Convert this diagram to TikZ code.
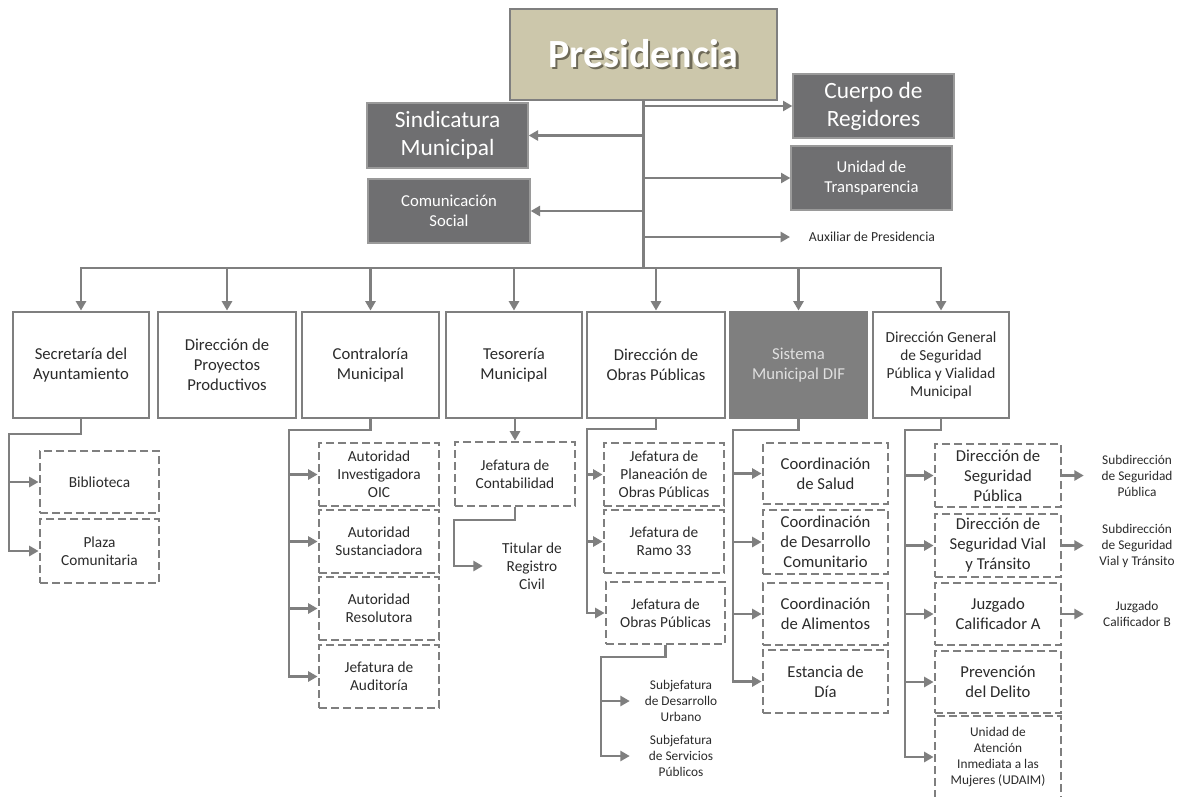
\documentclass[tikz,border=0pt]{standalone}
\usepackage{fontspec}
\setmainfont{Carlito}
\usetikzlibrary{arrows.meta}
\definecolor{ln}{HTML}{7F7F7F}
\definecolor{dk}{HTML}{6F6F71}
\definecolor{dkb}{HTML}{9A9A9A}
\definecolor{tanfill}{HTML}{CCC7AB}
\definecolor{diffill}{HTML}{7F7F7F}
\definecolor{txt}{HTML}{2B2B2B}
\definecolor{shd}{HTML}{6E6A58}
\newcommand\fs[2]{\fontsize{#1}{#2}\selectfont}
\tikzset{
 conn/.style={draw=ln, line width=2.2pt},
 arr/.style={conn, -{Triangle[length=7pt,width=7.5pt]}},
 solidbox/.style={draw=ln, line width=2.2pt, fill=white, align=center, text=txt, inner sep=1pt},
 dbox/.style={draw=ln, line width=2.2pt, dash pattern=on 6pt off 3pt, fill=white, align=center, text=txt, inner sep=1pt},
 darkbox/.style={draw=dkb, line width=1pt, fill=dk, text=white, align=center, inner sep=1pt},
 lbl/.style={align=center, text=txt, inner sep=0pt},
 fA/.style={font=\fs{12.5}{15}},
 fB/.style={font=\fs{11.5}{13.5}},
 fC/.style={font=\fs{12.5}{15}},
 fD/.style={font=\fs{10}{12}},
 fE/.style={font=\fs{17.5}{21}},
 fF/.style={font=\fs{12.5}{15}},
}
\newcommand\bx[7]{\node[#2, minimum width={(#5-#3)*0.75pt}, minimum height={(#6-#4)*0.75pt}] (#1) at ({(#3+#5)/2},{(#4+#6)/2}) {#7};}
\begin{document}
\begin{tikzpicture}[x=0.75pt,y=-0.75pt]
\useasboundingbox (0,0) rectangle (1180,796);
\clip (0,0) rectangle (1180,796);
\fill[white] (0,0) rectangle (1180,796);

% top
\bx{pres}{solidbox, fill=tanfill, text=white, font=\fs{30}{36}\bfseries}{510}{9}{777}{100}{\makebox[0pt][l]{\hspace{1.6pt}\raisebox{-1.6pt}{\color{shd}Presidencia}}Presidencia}
\bx{cuerpo}{darkbox, fE}{793}{74}{954}{138}{Cuerpo de\\Regidores}
\bx{sind}{darkbox, fE}{367}{103}{528}{168}{Sindicatura\\Municipal}
\bx{unidad}{darkbox, fF}{791}{146}{952}{210}{Unidad de\\Transparencia}
\bx{comun}{darkbox, fF}{368}{179}{530}{243}{Comunicación\\Social}
\node[lbl, font=\fs{10.3}{12}, anchor=west, inner xsep=14pt] (aux) at (790,237) {Auxiliar de Presidencia};

\coordinate (bus) at (644,268);
\draw[conn] (pres.south) -- (pres.south |- bus);
\draw[arr] (pres.south |- cuerpo.west) -- (cuerpo.west);
\draw[arr] (pres.south |- sind.east) -- (sind.east);
\draw[arr] (pres.south |- unidad.west) -- (unidad.west);
\draw[arr] (pres.south |- comun.east) -- (comun.east);
\draw[arr] (pres.south |- aux.west) -- (aux.west);

% level 2
\bx{sec}{solidbox, fA}{13}{312}{149}{418}{Secretaría del\\Ayuntamiento}
\bx{proj}{solidbox, fA}{158}{312}{296}{418}{Dirección de\\Proyectos\\Productivos}
\bx{contr}{solidbox, fA}{302}{312}{439}{418}{Contraloría\\Municipal}
\bx{tes}{solidbox, fA}{446}{312}{582}{418}{Tesorería\\Municipal}
\bx{obras}{solidbox, fA}{587}{312}{725}{418}{Dirección de\\Obras Públicas}
\bx{dif}{solidbox, fA, fill=diffill, text=black!12}{730}{312}{867}{418}{Sistema\\Municipal DIF}
\bx{dgsp}{solidbox, fB}{873}{312}{1009}{418}{Dirección General\\de Seguridad\\Pública y Vialidad\\Municipal}

\draw[conn, line cap=rect] (sec.north |- bus) -- (dgsp.north |- bus);
\foreach \n in {sec,proj,contr,tes,obras,dif,dgsp}{
  \draw[arr] (\n.north |- bus) -- (\n.north);
}

% Secretaria children
\bx{bib}{dbox, fB}{40}{451}{159}{513}{Biblioteca}
\bx{plaza}{dbox, fB}{40}{519}{159}{583}{Plaza\\Comunitaria}
\coordinate (secJ) at (9,434);
\draw[arr] (sec.south) |- (secJ) |- (plaza.west);
\draw[arr] (secJ |- bib.west) -- (bib.west);

% Contraloria children
\bx{oic}{dbox, fB}{319}{443}{439}{506}{Autoridad\\Investigadora\\OIC}
\bx{sust}{dbox, fB}{319}{510}{439}{573}{Autoridad\\Sustanciadora}
\bx{reso}{dbox, fB}{319}{577}{439}{640}{Autoridad\\Resolutora}
\bx{audi}{dbox, fB}{319}{645}{439}{708}{Jefatura de\\Auditoría}
\coordinate (conJ) at (289,430);
\draw[arr] (contr.south) |- (conJ) |- (audi.west);
\foreach \n in {oic,sust,reso}{\draw[arr] (conJ |- \n.west) -- (\n.west);}

% Tesoreria children
\bx{conta}{dbox, fB}{455}{442}{575}{506}{Jefatura de\\Contabilidad}
\draw[arr] (tes.south -| conta.north) -- (conta.north);
\node[lbl, fB, minimum width=73.5pt] (titular) at (532,566) {Titular de\\Registro\\Civil};
\coordinate (tesJ) at (454,520);
\draw[arr] (conta.south) |- (tesJ) |- (titular.west);

% Obras children
\bx{plan}{dbox, fB}{604}{443}{724}{506}{Jefatura de\\Planeación de\\Obras Públicas}
\bx{ramo}{dbox, fB}{604}{510}{724}{573}{Jefatura de\\Ramo 33}
\bx{jop}{dbox, fB}{606}{582}{725}{644}{Jefatura de\\Obras Públicas}
\coordinate (obJ) at (587,429);
\draw[arr] (obras.south) |- (obJ) |- (jop.west);
\foreach \n in {plan,ramo}{\draw[arr] (obJ |- \n.west) -- (\n.west);}
\node[lbl, fD, minimum width=76.5pt] (sub1) at (681,701) {Subjefatura\\de Desarrollo\\Urbano};
\node[lbl, fD, minimum width=76.5pt] (sub2) at (681,756) {Subjefatura\\de Servicios\\Públicos};
\coordinate (jopJ) at (601,657);
\draw[arr] (jop.south) |- (jopJ) |- (sub2.west);
\draw[arr] (jopJ |- sub1.west) -- (sub1.west);

% DIF children
\bx{salud}{dbox, fC}{763}{443}{888}{504}{Coordinación\\de Salud}
\bx{desa}{dbox, fC}{763}{510}{888}{574}{Coordinación\\de Desarrollo\\Comunitario}
\bx{alim}{dbox, fC}{763}{583}{888}{645}{Coordinación\\de Alimentos}
\bx{estan}{dbox, fC}{763}{650}{888}{713}{Estancia de\\Día}
\coordinate (difJ) at (733,430);
\draw[arr] (dif.south) |- (difJ) |- (estan.west);
\foreach \n in {salud,desa,alim}{\draw[arr] (difJ |- \n.west) -- (\n.west);}

% DGSP children
\bx{dsp}{dbox, fA}{935}{444}{1061}{507}{Dirección de\\Seguridad\\Pública}
\bx{dsv}{dbox, fA}{935}{514}{1061}{577}{Dirección de\\Seguridad Vial\\y Tránsito}
\bx{juz}{dbox, fA}{935}{583}{1061}{645}{Juzgado\\Calificador A}
\bx{prev}{dbox, fA}{935}{651}{1061}{713}{Prevención\\del Delito}
\bx{udaim}{dbox, fD}{935}{716}{1061}{798}{Unidad de\\Atención\\Inmediata a las\\Mujeres (UDAIM)}
\coordinate (dgJ) at (905,430);
\draw[arr] (dgsp.south) |- (dgJ) |- (udaim.west);
\foreach \n in {dsp,dsv,juz,prev}{\draw[arr] (dgJ |- \n.west) -- (\n.west);}

\node[lbl, fD, minimum width=79.5pt] (sdsp) at (1137,476) {Subdirección\\de Seguridad\\Pública};
\node[lbl, fD, minimum width=79.5pt] (sdsv) at (1137,546) {Subdirección\\de Seguridad\\Vial y Tránsito};
\node[lbl, fD, minimum width=79.5pt] (juzb) at (1137,614) {Juzgado\\Calificador B};
\draw[arr] (dsp.east) -- (dsp.east -| sdsp.west);
\draw[arr] (dsv.east) -- (dsv.east -| sdsv.west);
\draw[arr] (juz.east) -- (juz.east -| juzb.west);
\end{tikzpicture}
\end{document}
